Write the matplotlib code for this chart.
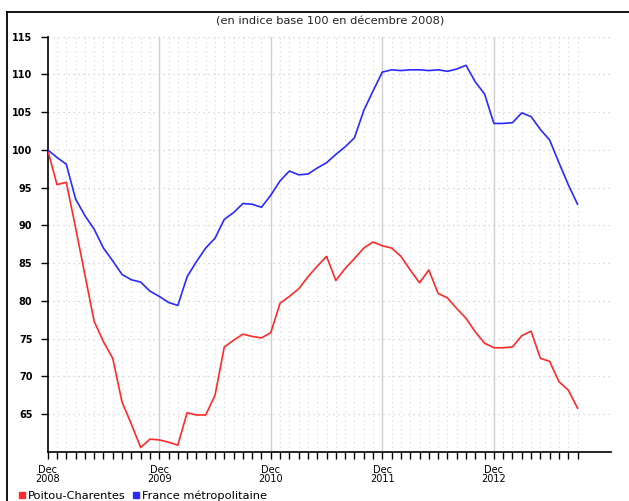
import numpy as np
import matplotlib.pyplot as plt
from matplotlib.lines import Line2D

# monthly index, Dec 2008 = 100 (Dec 2008 .. Sep 2013)
poitou = [100.0, 95.4, 95.7, 89.7, 83.5, 77.3, 74.6, 72.4, 66.6, 63.7,
          60.6, 61.7, 61.6, 61.3, 60.9, 65.2, 64.9, 64.9, 67.5, 73.9,
          74.8, 75.6, 75.3, 75.1, 75.8, 79.7, 80.6, 81.6, 83.2, 84.6,
          85.9, 82.7, 84.3, 85.6, 87.0, 87.8, 87.3, 87.0, 85.9, 84.1,
          82.4, 84.1, 81.0, 80.4, 79.0, 77.7, 75.9, 74.4, 73.8, 73.8,
          73.9, 75.4, 76.0, 72.4, 72.0, 69.3, 68.2, 65.8]
france = [100.0, 99.0, 98.1, 93.5, 91.3, 89.5, 87.0, 85.3, 83.5, 82.8,
          82.5, 81.3, 80.6, 79.8, 79.4, 83.2, 85.2, 87.0, 88.3, 90.8,
          91.7, 92.9, 92.8, 92.4, 94.0, 95.9, 97.2, 96.7, 96.8, 97.6,
          98.3, 99.4, 100.4, 101.6, 105.2, 107.8, 110.3, 110.6, 110.5, 110.6,
          110.6, 110.5, 110.6, 110.4, 110.7, 111.2, 109.0, 107.4, 103.5, 103.5,
          103.6, 104.9, 104.4, 102.7, 101.3, 98.3, 95.4, 92.8]
year_labels = ["Dec\n2008", "Dec\n2009", "Dec\n2010", "Dec\n2011", "Dec\n2012"]
y_ticks = [65, 70, 75, 80, 85, 90, 95, 100, 105, 110, 115]

red = "#ff2a2a"
blue = "#2a2aff"

fig = plt.figure(figsize=(6.29, 5.01), dpi=100)
ax = fig.add_axes([0.0758, 0.0978, 0.8956, 0.8292])

months = np.arange(len(poitou))

# grid: dotted everywhere, solid at each December
for m in months[1:]:
    ax.axvline(m, color="#d8d8d8", linestyle=(0, (1, 3)), linewidth=0.8, zorder=0)
for y in y_ticks:
    ax.axhline(y, color="#cccccc", linestyle=(0, (1, 3)), linewidth=0.9, zorder=0)
for m in range(12, 60, 12):
    ax.axvline(m, color="#d0d0d0", linestyle="-", linewidth=1.0, zorder=1)

ax.plot(months, poitou, color=red, linewidth=1.2, zorder=3)
ax.plot(months, france, color=blue, linewidth=1.2, zorder=3)

ax.set_xlim(0, 60.6)
ax.set_ylim(60, 115)

x_labels = ["" for m in months]
for i, lab in enumerate(year_labels):
    x_labels[i * 12] = lab
ax.set_xticks(months)
ax.set_xticklabels(x_labels, fontsize=7, linespacing=0.95)
ax.tick_params(axis="x", direction="out", length=5, width=1, color="black", pad=4)

ax.set_yticks(y_ticks)
ax.set_yticklabels([str(v) for v in y_ticks], fontsize=7, fontweight="bold")
ax.tick_params(axis="y", direction="out", length=5, width=1, pad=6)

ax.spines["top"].set_visible(False)
ax.spines["right"].set_visible(False)
ax.spines["left"].set_linewidth(1.2)
ax.spines["bottom"].set_linewidth(1.2)

fig.text(0.525, 0.957, "(en indice base 100 en décembre 2008)", ha="center", va="center",
         fontsize=8.2, color="#222222")

# outer frame (top and left edges)
fig.add_artist(Line2D([0.011, 1.0], [0.977, 0.977], color="black", linewidth=1.3))
fig.add_artist(Line2D([0.011, 0.011], [0.0, 0.977], color="black", linewidth=1.3))

handles = [Line2D([], [], color=red, marker="s", linestyle="none", markersize=4.5),
           Line2D([], [], color=blue, marker="s", linestyle="none", markersize=4.5)]
fig.legend(handles, ["Poitou-Charentes", "France métropolitaine"], loc="lower left",
           bbox_to_anchor=(0.012, -0.02), ncol=2, frameon=False, fontsize=8.2,
           handletextpad=0.1, columnspacing=0.5, handlelength=0.8)

plt.savefig("out.png", dpi=100)
